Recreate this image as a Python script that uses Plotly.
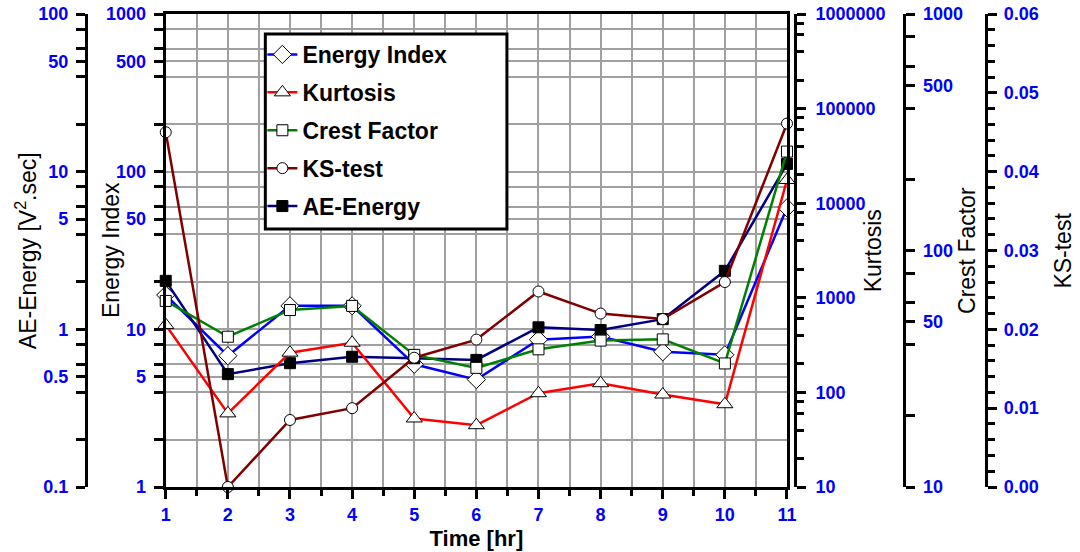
import plotly.graph_objects as go

# ---------------- data ----------------
hours = [1, 2, 3, 4, 5, 6, 7, 8, 9, 10, 11]
energy_index = [16.5, 6.8, 14.1, 14.1, 6.0, 4.8, 8.6, 9.0, 7.2, 6.9, 59.0]
kurtosis = [516, 60, 263, 335, 53, 45, 98, 125, 95, 75, 17600]
crest_factor = [61.2, 43.2, 56.0, 58.3, 36.2, 31.9, 38.2, 41.6, 42.1, 33.3, 262]
ks_test = [0.0450, 0.0, 0.0085, 0.0100, 0.0164, 0.0187, 0.0248, 0.0220, 0.0213, 0.0260, 0.0461]
ae_energy = [2.03, 0.52, 0.61, 0.67, 0.655, 0.64, 1.03, 0.99, 1.16, 2.35, 11.2]

x_ticks = [1, 2, 3, 4, 5, 6, 7, 8, 9, 10, 11]
x_minor = [1.5, 2.5, 3.5, 4.5, 5.5, 6.5, 7.5, 8.5, 9.5, 10.5]
ei_ticks = [1, 5, 10, 50, 100, 500, 1000]
ei_labels = ["1", "5", "10", "50", "100", "500", "1000"]
ei_minor = [2, 4, 6, 8, 20, 40, 60, 80, 200, 400, 600, 800]
ae_ticks = [0.1, 0.5, 1, 5, 10, 50, 100]
ae_labels = ["0.1", "0.5", "1", "5", "10", "50", "100"]
ae_minor = [0.2, 0.4, 0.6, 0.8, 2, 4, 6, 8, 20, 40, 60, 80]
ku_ticks = [10, 100, 1000, 10000, 100000, 1000000]
ku_labels = ["10", "100", "1000", "10000", "100000", "1000000"]
ku_minor = [m * d for d in [10, 100, 1000, 10000, 100000] for m in [2, 4, 6, 8]]
cf_ticks = [10, 50, 100, 500, 1000]
cf_labels = ["10", "50", "100", "500", "1000"]
cf_minor = [20, 40, 60, 80, 200, 400, 600, 800]
ks_ticks = [0.0, 0.01, 0.02, 0.03, 0.04, 0.05, 0.06]
ks_labels = ["0.00", "0.01", "0.02", "0.03", "0.04", "0.05", "0.06"]

W, H = 1080, 552
TOP, BOT = 14, 487
PH = BOT - TOP
FONT = "Liberation Sans, Arial, sans-serif"
BLUE = "#0000FF"
tickfont = dict(family=FONT, size=18, color=BLUE, weight="bold")

fig = go.Figure()

def mk(sym, size, fill="white"):
    return dict(symbol=sym, size=size, color=fill, line=dict(color="black", width=1))

fig.add_trace(go.Scatter(x=hours, y=energy_index, name="Energy Index", yaxis="y",
                         mode="lines+markers", line=dict(color="#0000FF", width=2.5),
                         marker=mk("diamond", 14), cliponaxis=False, legendgroup="a"))
fig.add_trace(go.Scatter(x=hours, y=kurtosis, name="Kurtosis", yaxis="y3",
                         mode="lines+markers", line=dict(color="#FF0000", width=2.5),
                         marker=mk("triangle-up", 14), cliponaxis=False, legendgroup="b"))
fig.add_trace(go.Scatter(x=hours, y=crest_factor, name="Crest Factor", yaxis="y4",
                         mode="lines+markers", line=dict(color="#008000", width=2.5),
                         marker=mk("square", 11), cliponaxis=False, legendgroup="c"))
fig.add_trace(go.Scatter(x=hours, y=ks_test, name="KS-test", yaxis="y5",
                         mode="lines+markers", line=dict(color="#800000", width=2.5),
                         marker=mk("circle", 11), cliponaxis=False, legendgroup="d"))
fig.add_trace(go.Scatter(x=hours, y=ae_energy, name="AE-Energy", yaxis="y2",
                         mode="lines+markers", line=dict(color="#000080", width=2.5),
                         marker=mk("square", 11, "black"), cliponaxis=False, legendgroup="e"))

axis_common = dict(showline=True, linecolor="black", linewidth=3,
                   ticks="outside", tickcolor="black", tickwidth=3, ticklen=9,
                   tickfont=tickfont, zeroline=False)

GRID = "#A0A0A0"

fig.update_layout(
    width=W, height=H,
    margin=dict(l=0, r=0, t=TOP, b=H - BOT),
    paper_bgcolor="white", plot_bgcolor="white",
    font=dict(family=FONT, color="black"),
    showlegend=True,
    legend=dict(x=261 / W, y=(BOT - 33) / PH, xanchor="left", yanchor="top",
                bgcolor="rgba(0,0,0,0)", borderwidth=0,
                font=dict(family=FONT, size=23, color="black", weight="bold"),
                tracegroupgap=5, itemwidth=30, traceorder="grouped"),
    xaxis=dict(domain=[163 / W, 793 / W], range=[1, 11], tickmode="array",
               tickvals=x_ticks, mirror=True, showgrid=True, gridcolor=GRID, gridwidth=1.5,
               minor=dict(tickvals=x_minor, ticks="outside", ticklen=6, tickwidth=3,
                          tickcolor="black", showgrid=True, gridcolor=GRID, gridwidth=1.5),
               title=dict(text="<b>Time [hr]</b>", font=dict(size=22, color="black"), standoff=8),
               **axis_common),
    yaxis=dict(type="log", range=[0, 3], tickmode="array", tickvals=ei_ticks, ticktext=ei_labels,
               mirror=True, showgrid=True, gridcolor=GRID, gridwidth=1.5,
               ticklabelstandoff=4,
               minor=dict(tickvals=ei_minor, ticks="outside", ticklen=9, tickwidth=3,
                          tickcolor="black", showgrid=True, gridcolor=GRID, gridwidth=1.5),
               **axis_common),
    yaxis2=dict(type="log", range=[-1, 2], overlaying="y", anchor="free", position=82 / W,
                side="left", tickmode="array", tickvals=ae_ticks, ticktext=ae_labels,
                showgrid=False, ticklabelstandoff=4,
                minor=dict(tickvals=ae_minor, ticks="outside", ticklen=9, tickwidth=3,
                           tickcolor="black", showgrid=False),
                **axis_common),
    yaxis3=dict(type="log", range=[1, 6], overlaying="y", anchor="free", position=801 / W,
                side="right", tickmode="array", tickvals=ku_ticks, ticktext=ku_labels,
                showgrid=False, ticklabelstandoff=6,
                minor=dict(tickvals=ku_minor, ticks="outside", ticklen=7, tickwidth=3,
                           tickcolor="black", showgrid=False),
                **axis_common),
    yaxis4=dict(type="log", range=[1, 3], overlaying="y", anchor="free", position=912 / W,
                side="right", tickmode="array", tickvals=cf_ticks, ticktext=cf_labels,
                showgrid=False, ticklabelstandoff=4,
                minor=dict(tickvals=cf_minor, ticks="outside", ticklen=9, tickwidth=3,
                           tickcolor="black", showgrid=False),
                **axis_common),
    yaxis5=dict(type="linear", range=[0, 0.06], overlaying="y", anchor="free", position=995 / W,
                side="right", tickmode="array", tickvals=ks_ticks, ticktext=ks_labels,
                showgrid=False, ticklabelstandoff=3,
                minor=dict(dtick=0.002, tick0=0, ticks="outside", ticklen=7, tickwidth=3,
                           tickcolor="black", showgrid=False),
                **axis_common),
)

# legend frame (white box with black border) drawn above the data, below the legend entries
fig.add_shape(type="rect", xref="paper", yref="paper",
              x0=264 / W, x1=509 / W, y0=(BOT - 229) / PH, y1=(BOT - 34) / PH,
              line=dict(color="black", width=3), fillcolor="white", layer="above")

titles = [("AE-Energy [V<sup>2</sup>.sec]", 21), ("Energy Index", 107), ("Kurtosis", 880),
          ("Crest Factor", 975), ("KS-test", 1072)]
for txt, px in titles:
    fig.add_annotation(text=txt, x=px / W, y=0.5, xref="paper", yref="paper",
                       xanchor="center", yanchor="middle", textangle=-90, showarrow=False,
                       font=dict(family=FONT, size=23, color="black"))

fig.write_html("out.html")
